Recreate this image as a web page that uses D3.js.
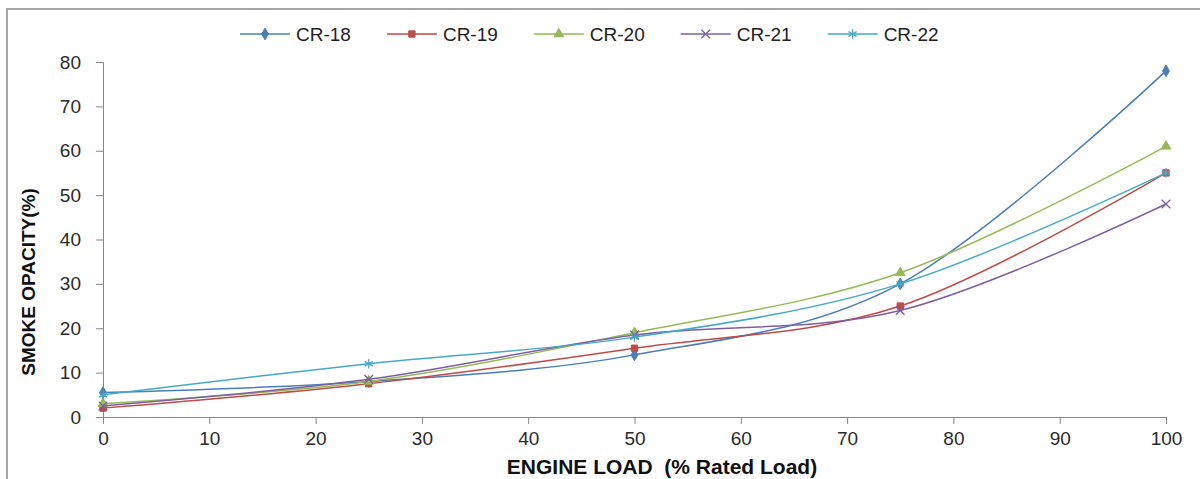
<!DOCTYPE html>
<html>
<head>
<meta charset="utf-8">
<script src="https://cdn.jsdelivr.net/npm/d3@7"></script>
<style>
  body { margin: 0; background: #fff; }
  text { font-family: "Liberation Sans", Arial, sans-serif; }
</style>
</head>
<body>
<div id="canvas"></div>
<script>
const loads = [0, 25, 50, 75, 100];
const seriesNames = ['CR-18', 'CR-19', 'CR-20', 'CR-21', 'CR-22'];
const cr18 = [5.5, 8, 14, 30, 78];
const cr19 = [2, 7.5, 15.5, 25, 55];
const cr20 = [3, 8, 19, 32.5, 61];
const cr21 = [2.5, 8.5, 18.5, 24, 48];
const cr22 = [5, 12, 18, 30, 55];
const xTicks = [0, 10, 20, 30, 40, 50, 60, 70, 80, 90, 100];
const yTicks = [0, 10, 20, 30, 40, 50, 60, 70, 80];

const W = 1200, H = 479;
const colors = ['#4a7ebb', '#be4b48', '#98b954', '#7d60a0', '#46aac5'];
const symbols = [d3.symbolDiamond, d3.symbolSquare, d3.symbolTriangle, d3.symbolTimes, d3.symbolAsterisk];
const symSize = [40, 40, 40, 50, 60];
const allValues = [cr18, cr19, cr20, cr21, cr22];

const svg = d3.select('#canvas').append('svg')
  .attr('width', W)
  .attr('height', H);

// outer chart border
svg.append('rect')
  .attr('x', 7).attr('y', 9)
  .attr('width', W + 20).attr('height', H + 20)
  .attr('fill', 'none')
  .attr('stroke', '#a6a6a6')
  .attr('stroke-width', 2);

const x = d3.scaleLinear().domain([0, 100]).range([103, 1166]);
const y = d3.scaleLinear().domain([0, 80]).range([417, 62]);

const xAxis = svg.append('g')
  .attr('transform', `translate(0, ${y(0)})`)
  .call(d3.axisBottom(x).tickValues(xTicks).tickSize(7).tickPadding(5));
const yAxis = svg.append('g')
  .attr('transform', `translate(${x(0)}, 0)`)
  .call(d3.axisLeft(y).tickValues(yTicks).tickSize(7).tickPadding(15));

[xAxis, yAxis].forEach(a => {
  a.select('.domain').attr('stroke', '#868686');
  a.selectAll('.tick line').attr('stroke', '#868686');
  a.selectAll('.tick text')
    .attr('fill', '#2a2a2a')
    .attr('font-size', '19px')
    .style('font-family', '"Liberation Sans", Arial, sans-serif');
});
xAxis.selectAll('.tick text').attr('dy', '0.85em');

// axis titles
svg.append('text')
  .text('ENGINE LOAD  (% Rated Load)')
  .attr('x', 662).attr('y', 474)
  .attr('text-anchor', 'middle')
  .attr('font-size', '21px')
  .attr('font-weight', 'bold')
  .attr('fill', '#111')
  .style('white-space', 'pre');

svg.append('text')
  .text('SMOKE OPACITY(%)')
  .attr('transform', 'translate(35, 282) rotate(-90)')
  .attr('text-anchor', 'middle')
  .attr('font-size', '19px')
  .attr('font-weight', 'bold')
  .attr('fill', '#111');

const line = d3.line()
  .x((d, i) => x(loads[i]))
  .y(d => y(d))
  .curve(d3.curveCardinal.tension(0));

const drawMarker = (g, i, px, py) => {
  const strokeOnly = i >= 3;
  g.append('path')
    .attr('d', d3.symbol().type(symbols[i]).size(symSize[i])())
    .attr('transform', `translate(${px}, ${py})`)
    .attr('fill', strokeOnly ? 'none' : colors[i])
    .attr('stroke', colors[i])
    .attr('stroke-width', strokeOnly ? 1.3 : 1);
};

allValues.forEach((vals, i) => {
  const g = svg.append('g');
  g.append('path')
    .attr('d', line(vals))
    .attr('fill', 'none')
    .attr('stroke', colors[i])
    .attr('stroke-width', 1.5);
  vals.forEach((v, j) => drawMarker(g, i, x(loads[j]), y(v)));
});

// legend
const legend = svg.append('g').attr('transform', 'translate(240, 34)');
let lx = 0;
seriesNames.forEach((name, i) => {
  const item = legend.append('g').attr('transform', `translate(${lx}, 0)`);
  item.append('line')
    .attr('x1', 0).attr('x2', 50)
    .attr('stroke', colors[i])
    .attr('stroke-width', 1.5);
  drawMarker(item, i, 25, 0);
  const t = item.append('text')
    .text(name)
    .attr('x', 56).attr('y', 7)
    .attr('font-size', '19px')
    .attr('fill', '#222');
  lx += 56 + t.node().getComputedTextLength() + 36;
});
</script>
</body>
</html>
